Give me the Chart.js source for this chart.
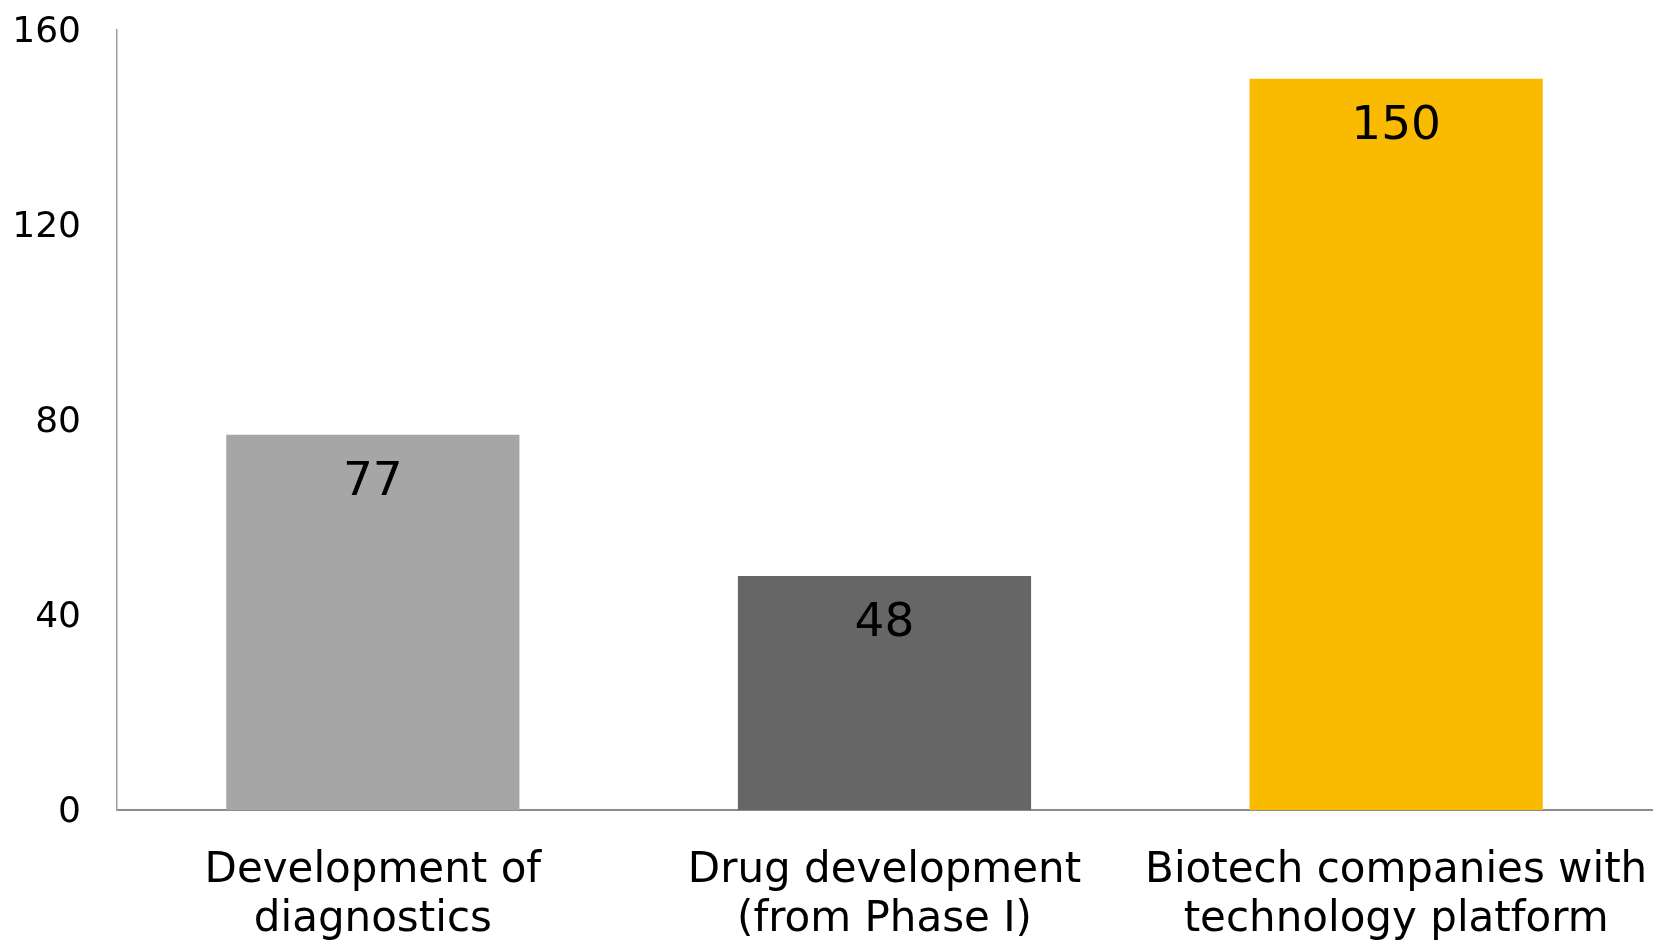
<!DOCTYPE html>
<html>
<head>
<meta charset="utf-8">
<script src="https://cdn.jsdelivr.net/npm/chart.js@4"></script>
<style>
  body { margin: 0; background: #fff; }
</style>
</head>
<body>
<canvas id="segmentChart" width="1654" height="940"></canvas>
<script>
const categories = [
    ['Development of', 'diagnostics'],
    ['Drug development', '(from Phase I)'],
    ['Biotech companies with', 'technology platform']
];
const values = [77, 48, 150];
const barColors = ['#A6A6A6', '#666666', '#F9BA00'];
const yTicks = [0, 40, 80, 120, 160];

// value written inside the top of each bar
const barLabels = {
    id: 'barLabels',
    afterDatasetsDraw(chart) {
        const ctx = chart.ctx;
        const meta = chart.getDatasetMeta(0);
        ctx.save();
        ctx.font = '47px "DejaVu Sans"';
        ctx.fillStyle = '#000';
        ctx.textAlign = 'center';
        ctx.textBaseline = 'middle';
        meta.data.forEach((bar, i) => {
            ctx.fillText(values[i], bar.x, bar.y + 48);
        });
        ctx.restore();
    }
};

const ctx = document.getElementById('segmentChart');

new Chart(ctx, {
    type: 'bar',
    data: {
        labels: categories,
        datasets: [{
            data: values,
            backgroundColor: barColors,
            barPercentage: 0.573,
            categoryPercentage: 1
        }]
    },
    options: {
        responsive: false,
        animation: false,
        layout: { padding: { top: 30, right: 2, left: 0, bottom: 0 } },
        plugins: {
            legend: { display: false },
            tooltip: { enabled: false }
        },
        scales: {
            x: {
                grid: { display: false, drawTicks: false },
                border: { color: '#8c8c8c', width: 2 },
                ticks: {
                    color: '#000',
                    font: { family: 'DejaVu Sans', size: 42, lineHeight: 1.16 },
                    padding: 37,
                    maxRotation: 0,
                    autoSkip: false
                },
                afterFit(scale) {
                    scale.height = 130;
                    scale.paddingLeft = 0;
                    scale.paddingRight = 0;
                }
            },
            y: {
                min: 0,
                max: 160,
                afterBuildTicks(scale) {
                    scale.ticks = yTicks.map(v => ({ value: v }));
                },
                grid: { display: false, drawTicks: false },
                border: { color: '#a0a0a0', width: 1.5 },
                ticks: {
                    color: '#000',
                    font: { family: 'DejaVu Sans', size: 36 },
                    padding: 36,
                    labelOffset: 3
                },
                afterFit(scale) {
                    scale.width = 117;
                    scale.paddingTop = 0;
                    scale.paddingBottom = 0;
                }
            }
        }
    },
    plugins: [barLabels]
});
</script>
</body>
</html>
